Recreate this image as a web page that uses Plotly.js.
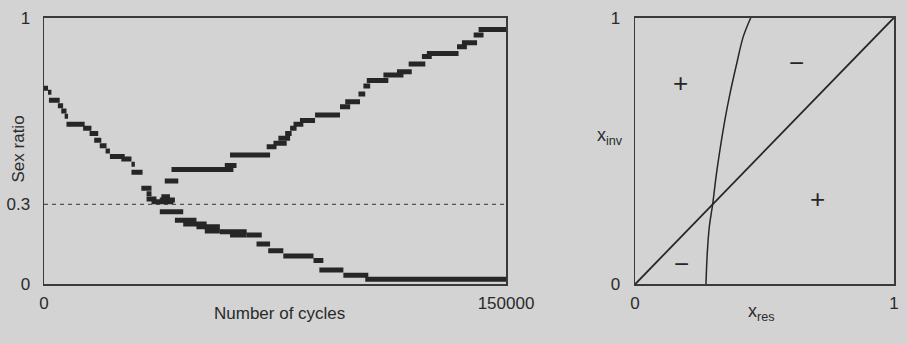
<!DOCTYPE html>
<html>
<head>
<meta charset="utf-8">
<script src="https://cdn.plot.ly/plotly-3.0.1.min.js"></script>
<style>html,body{margin:0;padding:0;background:#d3d3d3;}#chart{width:907px;height:344px;}</style>
</head>
<body>
<div id="chart"></div>
<script>
// Left panel: horizontal step segments (start cycle, end cycle, sex ratio)
var lowerStart = [0, 1300, 1600, 4500, 5600, 6700, 7300, 12700, 14800, 16300, 18100, 20000, 21400, 25100, 28400, 28400,
  31600, 33300, 33300, 34900, 37600, 38100, 37600, 42500, 45200, 49500, 52200, 57100, 60400, 65800, 69000, 72800, 77700, 87500, 89400, 97200, 104300];
var lowerEnd   = [1300, 2400, 5100, 6200, 7300, 7800, 13200, 15400, 17600, 18600, 20300, 21400, 26200, 28400, 29500, 32000,
  34900, 34900, 36500, 42000, 42500, 40900, 45200, 49500, 52800, 57100, 57100, 65800, 65800, 70700, 73400, 77700, 87500, 90700, 97200, 105300, 150000];
var lowerValue = [0.735, 0.72, 0.69, 0.67, 0.65, 0.63, 0.60, 0.585, 0.566, 0.54, 0.52, 0.50, 0.479, 0.47, 0.45, 0.42,
  0.36, 0.34, 0.32, 0.31, 0.316, 0.328, 0.2725, 0.24, 0.226, 0.216, 0.20, 0.1975, 0.185, 0.185, 0.151, 0.126, 0.106, 0.089, 0.054, 0.034, 0.019];

var upperStart = [39200, 41400, 58700, 60400, 72300, 74500, 76100, 78300, 79900, 81000, 83100, 88000, 96100, 97800, 102100, 103700, 104800, 110200, 114600, 118400, 122700, 124300, 134100, 135700, 139500, 141100];
var upperEnd   = [43600, 61500, 62500, 73400, 75500, 78800, 79900, 80400, 82000, 84200, 88000, 96100, 99400, 102600, 104300, 105900, 111800, 116700, 119400, 123800, 125900, 134600, 137300, 140600, 142700, 150000];
var upperValue = [0.3875, 0.431, 0.446, 0.485, 0.516, 0.529, 0.548, 0.566, 0.585, 0.60, 0.614, 0.635, 0.666, 0.685, 0.714, 0.744, 0.764, 0.785, 0.7975, 0.826, 0.854, 0.866, 0.891, 0.906, 0.935, 0.956];

var refLevel = 0.3;
var cycleMax = 150000;

// Right panel: boundary curve (x_res, x_inv)
var curveRes = [0.274, 0.279, 0.287, 0.300, 0.313, 0.328, 0.347, 0.367, 0.393, 0.418, 0.447];
var curveInv = [0.0, 0.116, 0.216, 0.301, 0.404, 0.504, 0.616, 0.716, 0.829, 0.929, 1.0];
var diagRes = [0, 1];
var diagInv = [0, 1];

var signText = ['+', '\u2212', '+', '\u2212'];
var signRes  = [0.174, 0.624, 0.704, 0.180];
var signInv  = [0.754, 0.829, 0.320, 0.075];

function segs(s, e, v) {
  var x = [], y = [];
  for (var i = 0; i < s.length; i++) { x.push(s[i], e[i], null); y.push(v[i], v[i], null); }
  return {x: x, y: y};
}
var lo = segs(lowerStart, lowerEnd, lowerValue);
var up = segs(upperStart, upperEnd, upperValue);

var ink = '#262626';
var bg = '#d3d3d3';
var fam = 'Liberation Sans, Arial, sans-serif';
var fnt = {family: fam, size: 17, color: '#2a2a2a'};

var traces = [
  {x: [0, cycleMax], y: [refLevel, refLevel], mode: 'lines', line: {color: '#555', width: 1.2, dash: '4px,4px'}, xaxis: 'x', yaxis: 'y', hoverinfo: 'skip'},
  {x: lo.x, y: lo.y, mode: 'lines', line: {color: ink, width: 5}, xaxis: 'x', yaxis: 'y', connectgaps: false},
  {x: up.x, y: up.y, mode: 'lines', line: {color: ink, width: 5}, xaxis: 'x', yaxis: 'y', connectgaps: false},
  {x: diagRes, y: diagInv, mode: 'lines', line: {color: ink, width: 1.8}, xaxis: 'x2', yaxis: 'y2'},
  {x: curveRes, y: curveInv, mode: 'lines', line: {color: ink, width: 1.5, shape: 'spline'}, xaxis: 'x2', yaxis: 'y2'}
];

var ann = [];
for (var i = 0; i < signText.length; i++) {
  ann.push({x: signRes[i], y: signInv[i], xref: 'x2', yref: 'y2', xanchor: 'center', yanchor: 'middle', text: signText[i], showarrow: false,
    font: {family: fam, size: 26, color: ink}});
}
function lab(px, py, txt, f, ang) {
  var a = {x: px/907, y: 1 - py/344, xref: 'paper', yref: 'paper', xanchor: 'center', yanchor: 'middle', text: txt, showarrow: false, font: f};
  if (ang) a.textangle = ang;
  return a;
}
var subFont = {family: fam, size: 18, color: '#2a2a2a'};
ann.push(lab(17.5, 149, 'Sex ratio', fnt, -90));
ann.push(lab(279, 313, 'Number of cycles', fnt));
ann.push(lab(610, 136, 'x<sub>inv</sub>', subFont));
ann.push(lab(761, 312, 'x<sub>res</sub>', subFont));

var axBase = {showgrid: false, zeroline: false, showline: true, mirror: true, linecolor: '#3a3a3a', linewidth: 1.5, ticks: '', tickfont: fnt, fixedrange: true};

var layout = {
  width: 907, height: 344,
  margin: {l: 0, r: 0, t: 0, b: 0},
  paper_bgcolor: bg, plot_bgcolor: bg,
  showlegend: false,
  xaxis: Object.assign({}, axBase, {domain: [44/907, 506/907], range: [0, cycleMax], tickvals: [0, cycleMax], ticktext: ['0', '150000'], ticklabelstandoff: 3, anchor: 'y'}),
  yaxis: Object.assign({}, axBase, {domain: [1 - 284.3/344, 1 - 17.7/344], range: [0, 1], tickvals: [0, 0.3, 1], ticktext: ['0', '0.3', '1'], ticklabelstandoff: 9, anchor: 'x'}),
  xaxis2: Object.assign({}, axBase, {domain: [635/907, 894/907], range: [0, 1], tickvals: [0, 1], ticktext: ['0', '1'], ticklabelstandoff: 3, anchor: 'y2'}),
  yaxis2: Object.assign({}, axBase, {domain: [1 - 284.3/344, 1 - 17.7/344], range: [0, 1], tickvals: [0, 1], ticktext: ['0', '1'], ticklabelstandoff: 10, anchor: 'x2'}),
  annotations: ann
};

Plotly.newPlot('chart', traces, layout, {staticPlot: true, displayModeBar: false});
</script>
</body>
</html>
